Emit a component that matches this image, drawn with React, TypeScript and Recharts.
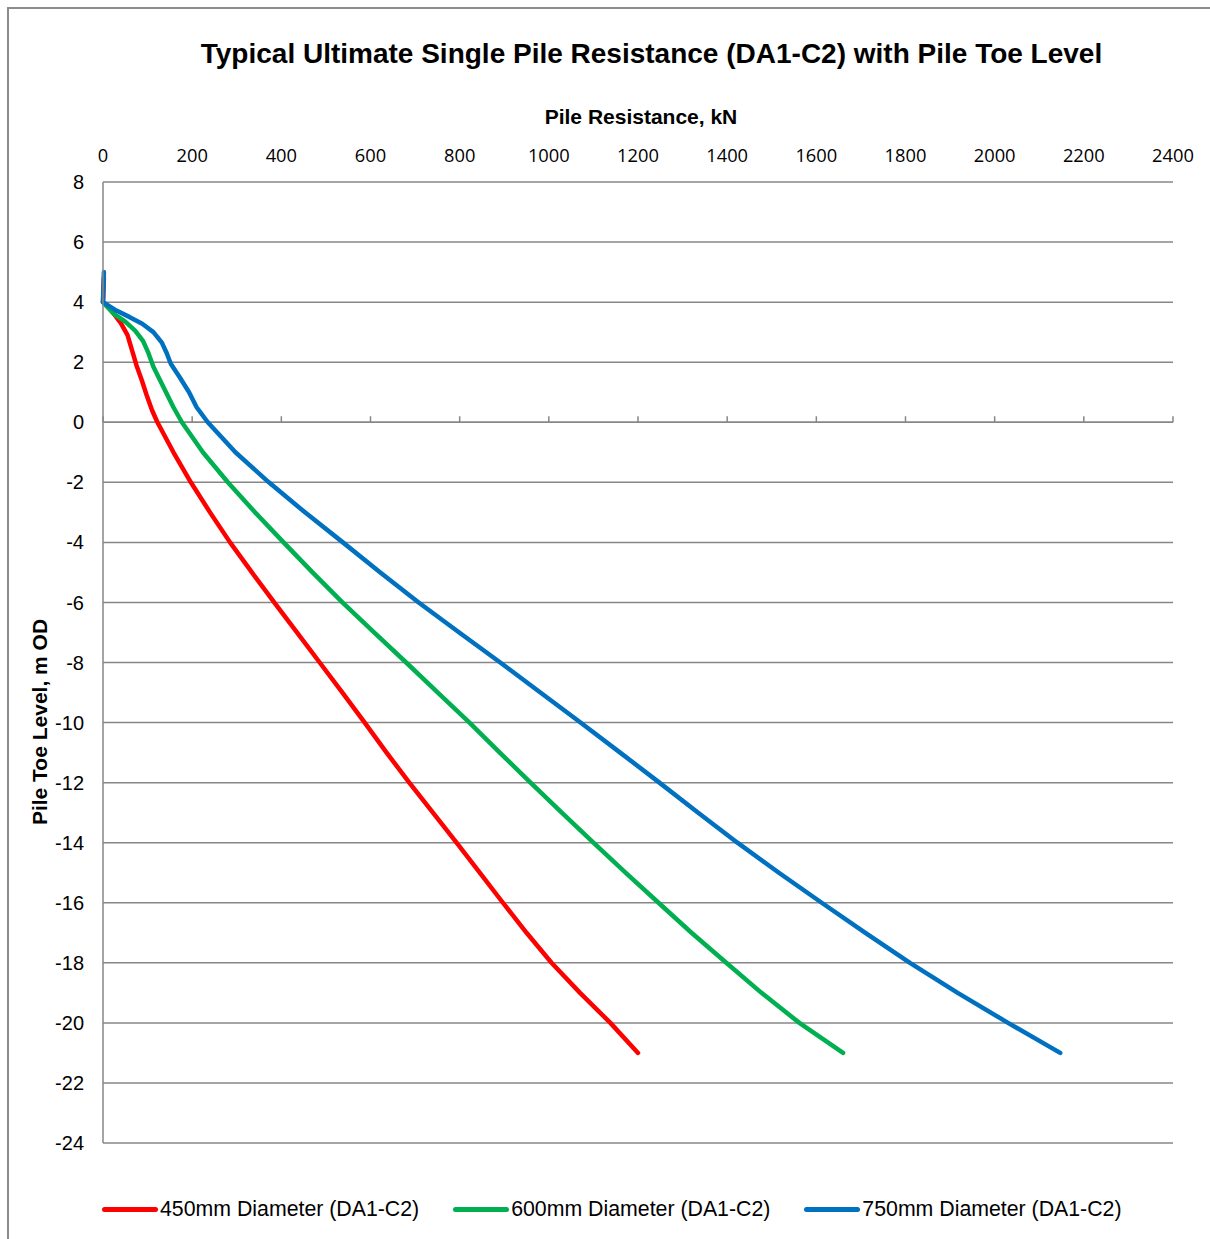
import React from 'react';
import { LineChart, Line, XAxis, YAxis, CartesianGrid, ReferenceLine } from 'recharts';

// pile toe level (m OD) and resistance (kN)
const levels450 = [4.8, 4, 3.7, 3.3, 2.9, 2.4, 1.9, 1.4, 0.9, 0.4, 0, -1, -2, -3, -4, -5, -6, -7, -8, -9, -10, -11, -12, -13, -14, -15, -16, -17, -18, -19, -20, -21];
const res450 = [2, 0, 20, 40, 55, 65, 75, 87, 98, 110, 122, 158, 197, 240, 285, 334, 384, 435, 486, 537, 587, 636, 687, 740, 793, 845, 897, 950, 1006, 1070, 1138, 1200];

const levels600 = [4, 3.6, 3.35, 3.05, 2.7, 2.3, 1.85, 1.4, 0.95, 0.5, 0, -1, -2, -3, -4, -5, -6, -7, -8, -9, -10, -11, -12, -13, -14, -15, -16, -17, -18, -19, -20, -21];
const res600 = [0, 25, 50, 72, 90, 102, 113, 128, 143, 158, 177, 224, 280, 341, 405, 470, 537, 608, 680, 751, 822, 890, 959, 1029, 1100, 1172, 1246, 1320, 1398, 1477, 1562, 1660];

const levels750 = [5, 4, 3.72, 3.5, 3.28, 3.0, 2.65, 2.3, 1.95, 1.5, 1.0, 0.5, 0, -1, -2, -3, -4, -5, -6, -7, -8, -9, -10, -11, -12, -13, -14, -15, -16, -17, -18, -19, -20, -21];
const res750 = [2, 0, 30, 60, 88, 113, 132, 143, 152, 172, 193, 210, 235, 297, 372, 453, 538, 622, 708, 799, 891, 981, 1071, 1160, 1248, 1335, 1423, 1516, 1612, 1710, 1810, 1917, 2030, 2147];

const xTicks = [0, 200, 400, 600, 800, 1000, 1200, 1400, 1600, 1800, 2000, 2200, 2400];
const yTicks = [8, 6, 4, 2, 0, -2, -4, -6, -8, -10, -12, -14, -16, -18, -20, -22, -24];

const toPoints = (res: number[], levels: number[]) => res.map((r, i) => ({ res: r, level: levels[i] }));

const series = [
  { name: '450mm Diameter (DA1-C2)', color: '#FF0000', data: toPoints(res450, levels450) },
  { name: '600mm Diameter (DA1-C2)', color: '#00B050', data: toPoints(res600, levels600) },
  { name: '750mm Diameter (DA1-C2)', color: '#0070C0', data: toPoints(res750, levels750) },
];

const ARIAL = '"Liberation Sans", Arial, sans-serif';
const GRID = '#878787';

export default function App() {
  return (
    <div style={{ position: 'absolute', left: 0, top: 0, width: 1210, height: 1239, background: '#fff', overflow: 'hidden' }}>
      <div style={{ position: 'absolute', left: 7, top: 7, width: 1220, height: 1260, borderLeft: '2px solid #8c8c8c', borderTop: '2px solid #8c8c8c' }} />
      <div style={{ position: 'absolute', left: 0, width: 1303, top: 38, textAlign: 'center', fontFamily: ARIAL, fontWeight: 'bold', fontSize: 28, color: '#000' }}>
        Typical Ultimate Single Pile Resistance (DA1-C2) with Pile Toe Level
      </div>
      <div style={{ position: 'absolute', left: 0, width: 1282, top: 105, textAlign: 'center', fontFamily: ARIAL, fontWeight: 'bold', fontSize: 21, color: '#000' }}>
        Pile Resistance, kN
      </div>
      <div style={{ position: 'absolute', left: 40, top: 722, width: 0, height: 0 }}>
        <div style={{ position: 'absolute', transform: 'translate(-50%, -50%) rotate(-90deg)', whiteSpace: 'nowrap', fontFamily: ARIAL, fontWeight: 'bold', fontSize: 21, color: '#000' }}>
          Pile Toe Level, m OD
        </div>
      </div>

      <div style={{ position: 'absolute', left: 0, top: 0 }}>
        <LineChart width={1210} height={1239} margin={{ top: 142, right: 37, bottom: 96, left: 23 }}>
          <CartesianGrid horizontal vertical={false} stroke={GRID} strokeWidth={1.5} />
          <XAxis
            xAxisId={0}
            orientation="top"
            dataKey="res"
            type="number"
            domain={[0, 2400]}
            ticks={xTicks}
            interval={0}
            height={40}
            axisLine={false}
            tickLine={false}
            tickSize={0}
            tickMargin={20}
            tick={{ fill: '#000', fontSize: 18.3, fontFamily: '"Open Sans", sans-serif' }}
          />
          <YAxis
            yAxisId={0}
            dataKey="level"
            type="number"
            domain={[-24, 8]}
            ticks={yTicks}
            interval={0}
            width={80}
            axisLine={{ stroke: GRID, strokeWidth: 1.5 }}
            tickLine={false}
            tickSize={0}
            tickMargin={19}
            tick={{ fill: '#000', fontSize: 20, fontFamily: ARIAL }}
          />
          <ReferenceLine y={0} stroke={GRID} strokeWidth={1.5} />
          {xTicks.map((t) => (
            <ReferenceLine
              key={t}
              segment={[{ x: t, y: 0 }, { x: t, y: 0.2 }]}
              stroke={GRID}
              strokeWidth={1.5}
            />
          ))}
          {series.map((s) => (
            <Line
              key={s.name}
              data={s.data}
              dataKey="level"
              name={s.name}
              type="linear"
              stroke={s.color}
              strokeWidth={4.5}
              strokeLinecap="round"
              strokeLinejoin="round"
              dot={false}
              activeDot={false}
              isAnimationActive={false}
            />
          ))}
        </LineChart>
      </div>

      <div style={{ position: 'absolute', left: 102, top: 1197, height: 24, display: 'flex', alignItems: 'center', gap: 34, fontFamily: ARIAL, fontSize: 21.3, color: '#000' }}>
        {series.map((s) => (
          <div key={s.name} style={{ display: 'flex', alignItems: 'center' }}>
            <div style={{ width: 56, height: 5, borderRadius: 3, background: s.color, marginRight: 2 }} />
            <span style={{ whiteSpace: 'nowrap' }}>{s.name}</span>
          </div>
        ))}
      </div>
    </div>
  );
}
